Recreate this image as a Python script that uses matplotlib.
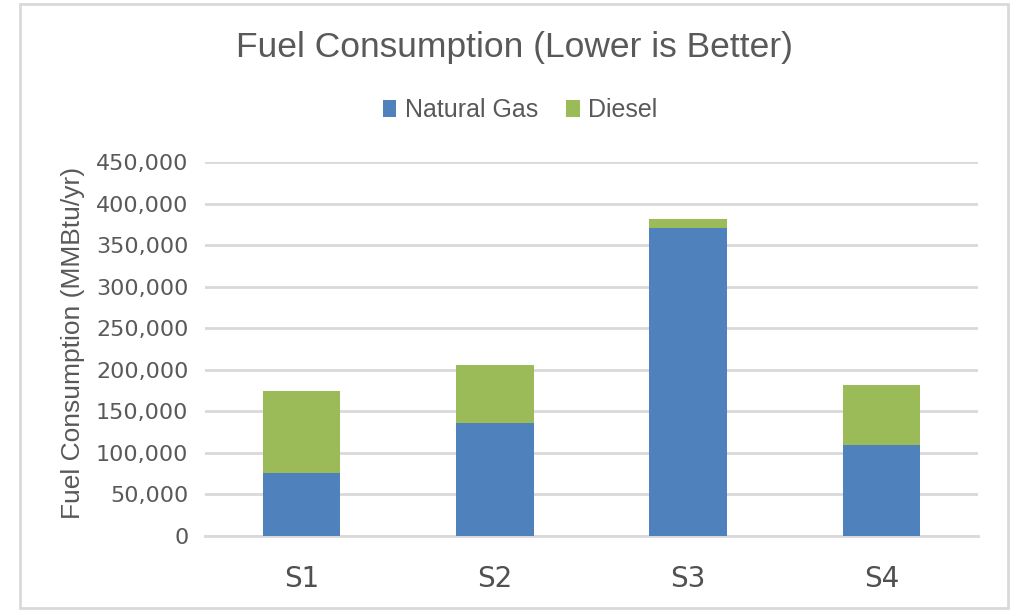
import matplotlib.pyplot as plt
from matplotlib.patches import Rectangle
from matplotlib.ticker import FuncFormatter

# fuel use per scenario, MMBtu/yr
scenarios = ["S1", "S2", "S3", "S4"]
natural_gas = [76000, 136500, 371000, 110000]
diesel = [99000, 69500, 10500, 72000]

blue = "#4F81BD"
green = "#9BBB59"
text_gray = "#595959"
grid_gray = "#D9D9D9"

W, H = 1016, 610
fig = plt.figure(figsize=(W / 100, H / 100), dpi=100)
fig.patch.set_facecolor("white")

# outer chart frame
fig.patches.append(Rectangle((20 / W, 2 / H), 988 / W, 604 / H, transform=fig.transFigure,
                             fill=False, edgecolor="#D9D9D9", linewidth=2))

ax = fig.add_axes([205 / W, 1 - 536 / H, 773 / W, 374 / H])

x = range(len(scenarios))
ax.bar(x, natural_gas, width=0.40, color=blue, label="Natural Gas", zorder=3)
ax.bar(x, diesel, width=0.40, bottom=natural_gas, color=green, label="Diesel", zorder=3)

ax.set_xlim(-0.5, len(scenarios) - 0.5)
ax.set_ylim(0, 450000)
ax.set_yticks(range(0, 450001, 50000))
ax.yaxis.set_major_formatter(FuncFormatter(lambda v, p: f"{int(v):,}"))
ax.grid(axis="y", color=grid_gray, linewidth=2, zorder=0)
ax.set_axisbelow(True)

for s in ["top", "right", "left"]:
    ax.spines[s].set_visible(False)
ax.spines["bottom"].set_color(grid_gray)
ax.spines["bottom"].set_linewidth(2)

ax.set_xticks(list(x))
ax.set_xticklabels(scenarios, fontsize=20, color="#505050", family="DejaVu Sans",
                   fontweight="medium")
ax.tick_params(axis="x", length=0, pad=21)
ax.tick_params(axis="y", length=0, pad=12, labelsize=16, labelcolor=text_gray)
for lab in ax.get_yticklabels():
    lab.set_family("DejaVu Sans")

ax.set_ylabel("Fuel Consumption (MMBtu/yr)", fontsize=19, color=text_gray,
              family="Liberation Sans")
ax.yaxis.set_label_coords(-0.155, 0.517)

fig.text(515 / W, 1 - 48 / H, "Fuel Consumption (Lower is Better)", ha="center", va="center",
         fontsize=25.5, color=text_gray, family="Liberation Sans")

leg = fig.legend(loc="center", bbox_to_anchor=(520 / W, 1 - 110 / H), ncol=2, frameon=False,
                 prop={"family": "Liberation Sans", "size": 18},
                 handlelength=0.55, handleheight=0.7, handletextpad=0.35, columnspacing=1.1)
for t in leg.get_texts():
    t.set_color(text_gray)

fig.savefig("out.png", dpi=100, facecolor="white")
